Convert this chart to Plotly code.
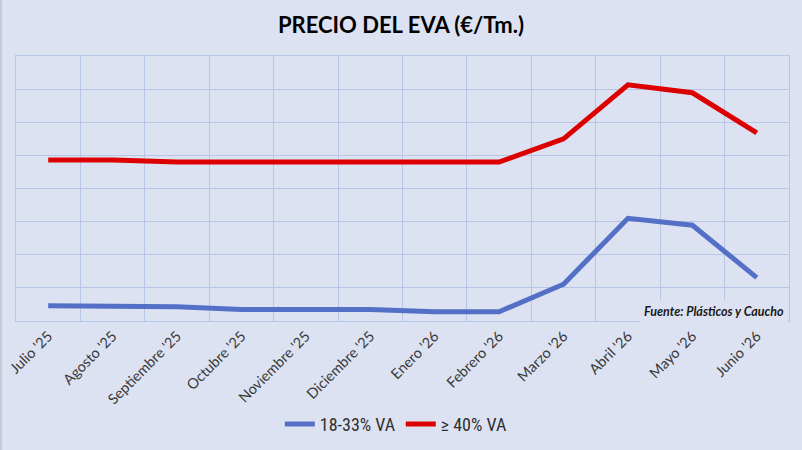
import plotly.graph_objects as go

months = ["Julio '25", "Agosto '25", "Septiembre '25", "Octubre '25", "Noviembre '25",
          "Diciembre '25", "Enero '26", "Febrero '26", "Marzo '26", "Abril '26",
          "Mayo '26", "Junio '26"]
serie_18_33 = [0.46, 0.46, 0.43, 0.35, 0.35, 0.35, 0.28, 0.28, 1.11, 3.10, 2.89, 1.31]
serie_40 = [4.86, 4.86, 4.80, 4.80, 4.80, 4.80, 4.80, 4.80, 5.50, 7.13, 6.89, 5.68]

BG = "#dce2f2"
GRID = "#b7c5e6"

fig = go.Figure()
fig.add_trace(go.Scatter(x=months, y=serie_18_33, mode="lines", name="18-33% VA",
                         line=dict(color="#5470c6", width=5)))
fig.add_trace(go.Scatter(x=months, y=serie_40, mode="lines", name="≥ 40% VA",
                         line=dict(color="#dc0000", width=5)))

fig.update_layout(
    width=802, height=450,
    paper_bgcolor=BG, plot_bgcolor=BG,
    margin=dict(l=16, r=13, t=56, b=129, autoexpand=False),
    title=dict(text="<b>PRECIO DEL EVA (€/Tm.)</b>", x=0.5, xanchor="center",
               y=1 - 25 / 450, yanchor="middle", yref="container",
               font=dict(family="Lato, Open Sans, sans-serif", size=22, color="#000000")),
    showlegend=True,
    legend=dict(orientation="h", x=0.492, xanchor="center", y=-0.39, yanchor="middle",
                font=dict(family="Liberation Sans Narrow, Roboto Condensed, Lato, sans-serif",
                          size=18, color="#303030"),
                bgcolor="rgba(0,0,0,0)", itemwidth=30, tracegroupgap=0),
    xaxis=dict(type="category", tickson="boundaries", showgrid=True, gridcolor=GRID,
               gridwidth=1, tickangle=-45, ticks="", showline=True, mirror=True,
               linecolor=GRID, linewidth=1, range=[-0.5, 11.5],
               tickfont=dict(family="Lato, Open Sans, sans-serif", size=14.5, color="#3a3a3a")),
    yaxis=dict(range=[0, 8], dtick=1, showgrid=True, gridcolor=GRID, gridwidth=1,
               showticklabels=False, zeroline=False, showline=True, mirror=True,
               linecolor=GRID, linewidth=1, fixedrange=True),
    shapes=[dict(type="line", xref="paper", yref="paper", x0=-15/773, x1=-15/773,
                 y0=-129/265, y1=1+56/265, line=dict(color="#c8cbd4", width=2),
                 layer="below")],
    annotations=[dict(text="<b><i>Fuente: Plásticos y Caucho</i></b>", xref="paper", yref="y",
                      x=0.9985, y=0.3, xanchor="right", yanchor="middle", showarrow=False,
                      bgcolor=BG, borderpad=3,
                      font=dict(family="Lato, Open Sans, sans-serif", size=12.5, color="#1a1a1a"))],
)

fig.write_html("out.html", config={"displayModeBar": False},
               post_script="document.body.style.margin='0';")
